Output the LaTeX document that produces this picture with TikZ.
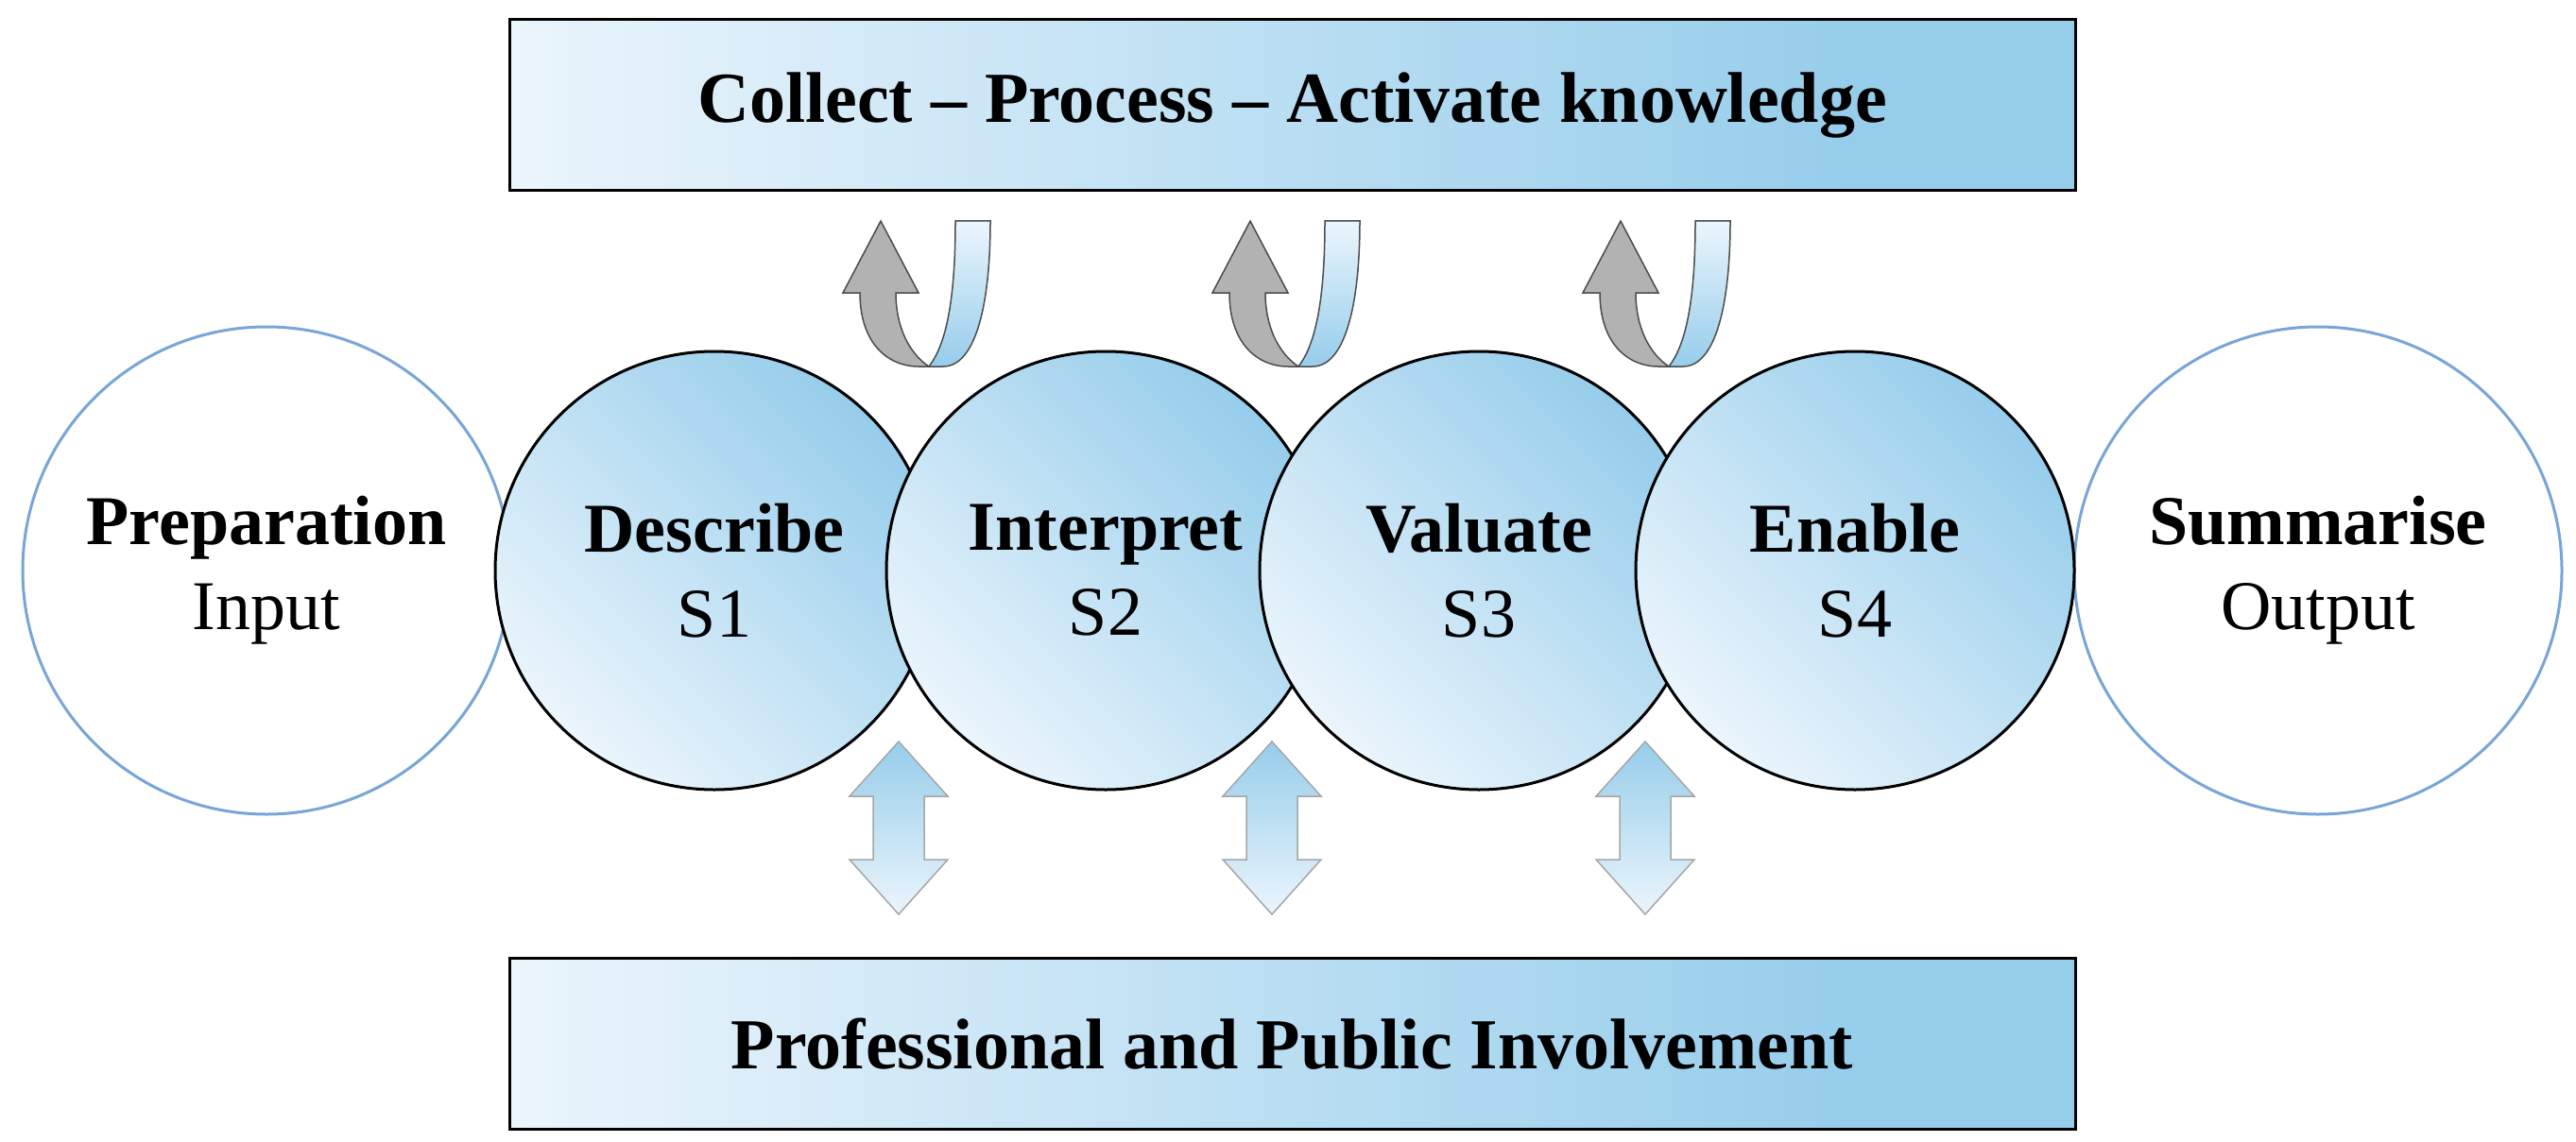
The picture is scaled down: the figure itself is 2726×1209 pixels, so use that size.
\documentclass[tikz,border=0pt]{standalone}
\usepackage{fontspec}
\setmainfont{Liberation Serif}
\begin{document}
\definecolor{lb}{RGB}{150,205,235}
\definecolor{vl}{RGB}{235,245,252}
\definecolor{ring}{RGB}{120,165,215}
\pgfdeclarehorizontalshading{boxsh}{100bp}{color(0bp)=(vl);color(25bp)=(vl);color(68bp)=(lb);color(75bp)=(lb);color(100bp)=(lb!65!white)}
\begin{tikzpicture}[x=1pt,y=-1pt,
  box/.style={draw=black,line width=3pt,shading=boxsh,minimum width=1657pt,minimum height=181pt,font=\fontsize{76}{80}\selectfont\bfseries},
  stage/.style={circle,draw=black,line width=3pt,minimum size=464pt,top color=lb,bottom color=vl,shading angle=-45,align=center,font=\fontsize{74}{90}\selectfont},
  side/.style={circle,draw=ring,line width=3pt,fill=white,minimum size=516pt,align=center,font=\fontsize{74}{90}\selectfont},
  gr/.style={fill=gray!60,draw=black!70,line width=1.5pt},
  bl/.style={draw=black!70,line width=1.5pt,top color=vl,bottom color=lb},
  dbl/.style={draw=gray!70,line width=1.5pt,top color=lb,bottom color=vl}]
\useasboundingbox (0,0) rectangle (2726,1209);
\node[box] (top) at (1367.5,111.5) {Collect – Process – Activate knowledge};
\node[box] (bot) at (1367.5,1105) {Professional and Public Involvement};
\node[side] (prep) at (282,604) {\textbf{Preparation}\\Input};
\node[side] (sum) at (2453,604) {\textbf{Summarise}\\Output};
\node[stage] (s1) at (756,604) {\textbf{Describe}\\S1};
\node[stage] (s2) at (1170,604) {\textbf{Interpret}\\S2};
\node[stage] (s3) at (1565,604) {\textbf{Valuate}\\S3};
\node[stage] (s4) at (1963,604) {\textbf{Enable}\\S4};
\foreach \x in {932,1323,1715}{
  \begin{scope}[shift={(\x,234)}]
  \path[gr] (0,0) -- (40,76) -- (16,76) .. controls (16,112) and (30,140) .. (51,154) -- (40,154) .. controls (8,154) and (-22,130) .. (-22,76) -- (-40,76) -- cycle;
  \path[bl] (51,154) .. controls (70,130) and (79,80) .. (79,0) -- (116,0) .. controls (116,90) and (100,154) .. (66,154) -- cycle;
  \end{scope}}
\foreach \x in {951,1346,1741}{
  \begin{scope}[shift={(\x,876)}]
  \path[dbl] (0,-91) -- (52,-33) -- (27,-33) -- (27,34) -- (52,34) -- (0,92) -- (-52,34) -- (-27,34) -- (-27,-33) -- (-52,-33) -- cycle;
  \end{scope}}
\end{tikzpicture}
\end{document}
